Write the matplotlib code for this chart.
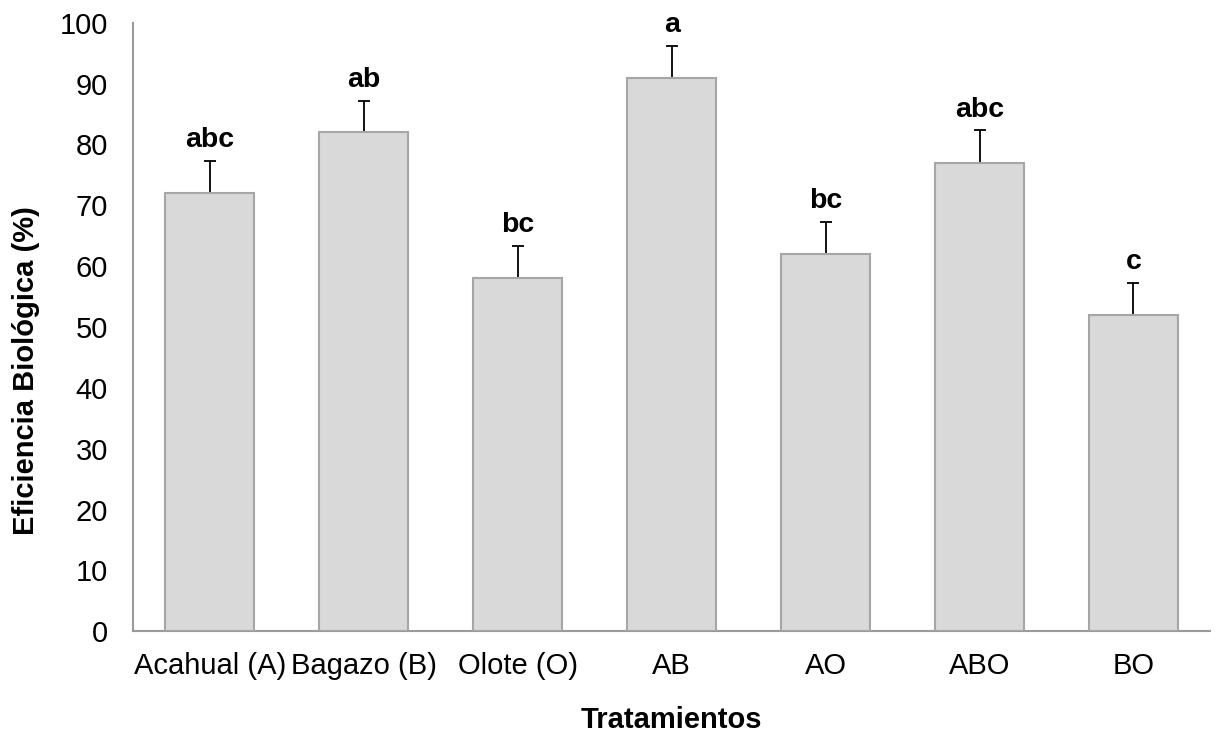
import matplotlib
matplotlib.use("Agg")
import matplotlib.pyplot as plt
import numpy as np

categories = ["Acahual (A)", "Bagazo (B)", "Olote (O)", "AB", "AO", "ABO", "BO"]
values = [72, 82, 58, 91, 62, 77, 52]
errors = [5.3, 5.2, 5.3, 5.2, 5.3, 5.3, 5.2]
letters = ["abc", "ab", "bc", "a", "bc", "abc", "c"]

plt.rcParams['font.family'] = ['Liberation Sans', 'DejaVu Sans']

fig = plt.figure(figsize=(12.19, 7.34), dpi=100)
ax = fig.add_axes([0.109, 0.140, 0.884, 0.829])

x = np.arange(len(categories))
ax.bar(x, values, width=0.58, color="#d9d9d9", edgecolor="#a6a6a6", linewidth=1.5, zorder=3)
ax.errorbar(x, values, yerr=errors, fmt="none", ecolor="black",
            elinewidth=1.3, capsize=4.5, capthick=1.3, zorder=2)

for xi, v, e, t in zip(x, values, errors, letters):
    ax.annotate(t, (xi, v + e), xytext=(0, 10), textcoords="offset points",
                ha="center", va="baseline", fontsize=20.5, fontweight="bold")

ax.set_xlim(-0.5, len(categories) - 0.5)
ax.set_ylim(0, 100)
ax.set_yticks(np.arange(0, 101, 10))
ax.set_xticks(x)
ax.set_xticklabels(categories)
ax.tick_params(axis="both", length=0, labelsize=21)
ax.tick_params(axis="y", pad=18)
ax.tick_params(axis="x", pad=15)
for s in ["top", "right"]:
    ax.spines[s].set_visible(False)
for s in ["left", "bottom"]:
    ax.spines[s].set_color("#9a9a9a")
    ax.spines[s].set_linewidth(1.5)

ax.set_ylabel("Eficiencia Biológica (%)", fontsize=21, fontweight="bold",
              va="center", ha="center")
ax.yaxis.set_label_coords(-0.0995, 0.428)
ax.set_xlabel("Tratamientos", fontsize=21, fontweight="bold", labelpad=19)

fig.savefig("out.png", dpi=100)
